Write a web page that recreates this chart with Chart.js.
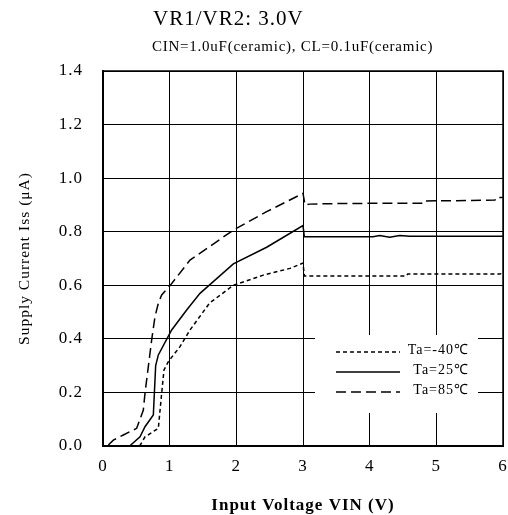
<!DOCTYPE html>
<html>
<head>
<meta charset="utf-8">
<script src="https://cdn.jsdelivr.net/npm/chart.js@4.4.1/dist/chart.umd.min.js"></script>
<style>
  html, body { margin: 0; padding: 0; background: #fff; }
  #wrap { width: 508px; height: 515px; }
</style>
</head>
<body>
<div id="wrap"><canvas id="issChart"></canvas></div>
<script>
// Values
const titleText = 'VR1/VR2: 3.0V';
const subtitleText = 'CIN=1.0uF(ceramic), CL=0.1uF(ceramic)';
const xTicks = [0, 1, 2, 3, 4, 5, 6];
const yTicks = [0.0, 0.2, 0.4, 0.6, 0.8, 1.0, 1.2, 1.4];
const seriesLabels = ['Ta=-40\u2103', 'Ta=25\u2103', 'Ta=85\u2103'];

const vinM40 = [0.55, 0.63, 0.83, 0.88, 0.915, 0.98, 1.155, 1.305, 1.6, 1.955, 2.405, 2.805, 3.0, 3.02, 3.5, 4.0, 4.55, 4.57, 5.0, 5.5, 5.95, 6.0];
const issM40 = [0.0, 0.034, 0.066, 0.197, 0.284, 0.315, 0.371, 0.433, 0.534, 0.60, 0.638, 0.663, 0.683, 0.635, 0.635, 0.635, 0.635, 0.642, 0.642, 0.642, 0.642, 0.645];

const vin25 = [0.4, 0.555, 0.63, 0.755, 0.79, 0.83, 1.03, 1.255, 1.455, 1.955, 2.455, 3.0, 3.02, 3.5, 4.05, 4.15, 4.3, 4.45, 4.6, 5.0, 5.5, 6.0];
const iss25 = [0.0, 0.034, 0.072, 0.116, 0.30, 0.34, 0.433, 0.508, 0.57, 0.68, 0.742, 0.823, 0.781, 0.781, 0.781, 0.786, 0.779, 0.786, 0.783, 0.783, 0.783, 0.783];

const vin85 = [0.08, 0.155, 0.305, 0.505, 0.605, 0.63, 0.73, 0.78, 0.83, 0.88, 1.0, 1.305, 1.955, 2.455, 3.0, 3.03, 3.1, 3.5, 4.0, 4.78, 4.8, 5.3, 5.88, 5.9, 6.0];
const iss85 = [0.004, 0.022, 0.041, 0.066, 0.134, 0.197, 0.396, 0.483, 0.533, 0.564, 0.597, 0.694, 0.806, 0.875, 0.943, 0.900, 0.903, 0.905, 0.906, 0.906, 0.915, 0.916, 0.918, 0.928, 0.928];

const ink = '#000';
const serif = "'Liberation Serif', 'Times New Roman', serif";

function toPoints(xs, ys) {
    return xs.map((x, i) => ({ x, y: ys[i] }));
}

const dashes = [[4, 3], [], [10, 5]];

// Legend box, titles and frame drawn on top of the chart area
const decorPlugin = {
    id: 'decor',
    beforeDraw(chart) {
        chart.ctx.letterSpacing = '1px';
    },
    beforeDatasetsDraw(chart) {
        const { ctx, chartArea } = chart;
        ctx.save();
        ctx.fillStyle = '#fff';
        ctx.fillRect(chartArea.left + 212, chartArea.top + 264, 163, 78);
        ctx.restore();
    },
    afterDraw(chart) {
        const { ctx, chartArea } = chart;
        ctx.save();
        // frame
        ctx.strokeStyle = ink;
        ctx.lineWidth = 1.5;
        ctx.strokeRect(chartArea.left, chartArea.top, chartArea.right - chartArea.left, chartArea.bottom - chartArea.top);

        // titles
        ctx.fillStyle = ink;
        ctx.textBaseline = 'middle';
        ctx.textAlign = 'left';
        ctx.font = '21px ' + serif;
        ctx.letterSpacing = '1px';
        ctx.fillText(titleText, 153, 19);
        ctx.font = '15px ' + serif;
        ctx.letterSpacing = '0.75px';
        ctx.fillText(subtitleText, 152, 47);

        // legend
        const rows = [352, 372, 392];
        ctx.font = '14px ' + serif;
        ctx.letterSpacing = '1px';
        ctx.textAlign = 'right';
        chart.data.datasets.forEach((ds, i) => {
            ctx.beginPath();
            ctx.setLineDash(ds.borderDash || []);
            ctx.lineWidth = 1.5;
            ctx.moveTo(336, rows[i]);
            ctx.lineTo(400, rows[i]);
            ctx.stroke();
            ctx.fillText(ds.label, 469, rows[i] - 2);
        });
        ctx.restore();
        ctx.letterSpacing = '0px';
    }
};

new Chart(document.getElementById('issChart').getContext('2d'), {
    type: 'scatter',
    data: {
        datasets: [vinM40, vin25, vin85].map((xs, i) => ({
            label: seriesLabels[i],
            data: toPoints(xs, [issM40, iss25, iss85][i]),
            showLine: true,
            borderColor: ink,
            borderWidth: 1.5,
            borderDash: dashes[i],
            pointRadius: 0,
            tension: 0
        }))
    },
    options: {
        responsive: true,
        maintainAspectRatio: false,
        animation: false,
        layout: { padding: { top: 71, right: 5, left: 0, bottom: 0 } },
        plugins: {
            legend: { display: false },
            tooltip: { enabled: false }
        },
        scales: {
            x: {
                type: 'linear',
                min: xTicks[0],
                max: xTicks[xTicks.length - 1],
                afterBuildTicks: s => { s.ticks = xTicks.map(v => ({ value: v })); },
                afterFit: s => { s.height = 69; s.paddingLeft = 0; s.paddingRight = 0; },
                grid: { color: ink, lineWidth: 1, drawTicks: false },
                border: { color: ink, width: 2 },
                ticks: { color: ink, padding: 10, font: { family: serif, size: 17 } },
                title: {
                    display: true,
                    text: 'Input Voltage VIN (V)',
                    color: ink,
                    font: { family: serif, size: 17, weight: 'bold', lineHeight: 1 },
                    padding: { top: 0, bottom: 1 }
                }
            },
            y: {
                type: 'linear',
                min: yTicks[0],
                max: yTicks[yTicks.length - 1],
                afterBuildTicks: s => { s.ticks = yTicks.map(v => ({ value: v })); },
                afterFit: s => { s.width = 103; s.paddingTop = 0; s.paddingBottom = 0; },
                grid: { color: ink, lineWidth: 1, drawTicks: false },
                border: { color: ink, width: 2 },
                ticks: {
                    color: ink,
                    padding: 20,
                    font: { family: serif, size: 17 },
                    callback: v => v.toFixed(1)
                },
                title: {
                    display: true,
                    text: 'Supply Current Iss (\u03bcA)',
                    color: ink,
                    font: { family: serif, size: 15.5, lineHeight: 1 },
                    padding: { top: 17, bottom: 0 }
                }
            }
        }
    },
    plugins: [decorPlugin]
});
</script>
</body>
</html>
